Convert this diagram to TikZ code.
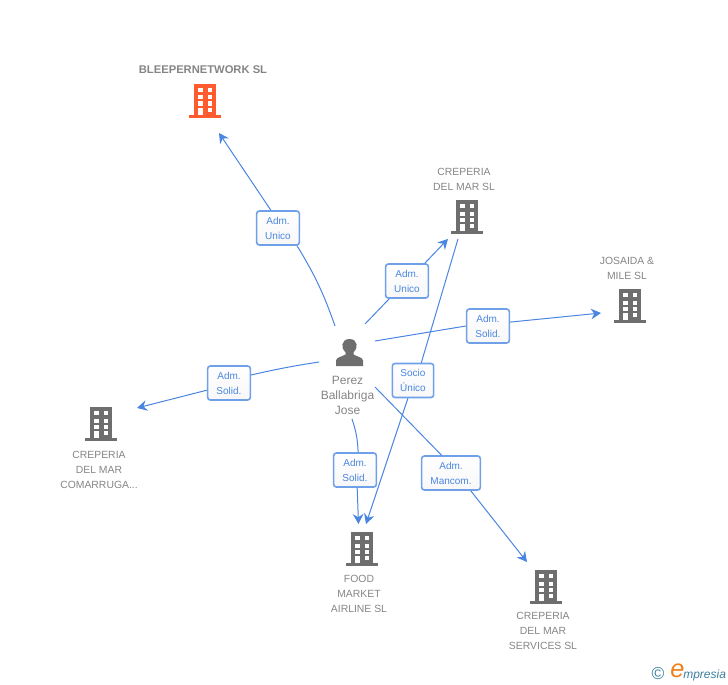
\documentclass[tikz,border=0pt]{standalone}
\usepackage{fontspec}
\setmainfont{Liberation Sans}
\usepackage{tikz}
\usetikzlibrary{arrows.meta}
\definecolor{linkblue}{HTML}{4A86E0}
\definecolor{boxblue}{HTML}{6FA0E8}
\definecolor{iconorange}{HTML}{FF5B2E}
\definecolor{icongray}{HTML}{6E6E6E}
\definecolor{labelgray}{HTML}{858585}
\definecolor{logoteal}{HTML}{3C7F9C}
\definecolor{logoorange}{HTML}{F08018}
\tikzset{
  linkbox/.style={shape=rectangle,draw=boxblue,line width=1.2pt,rounded corners=2pt,top color=white,bottom color=black!3,
    text=linkblue,font=\fontsize{7.5}{11.2}\selectfont,align=center,inner sep=0pt,minimum height=25.5pt},
  link/.style={draw=linkblue,line width=.75pt},
  linkto/.style={link,-{Stealth[length=7.5pt,width=8pt,inset=2.5pt]}},
  caption/.style={text=labelgray,font=\fontsize{7.8}{11.25}\selectfont,align=center,inner sep=0pt},
  bldg/.style={shape=rectangle,minimum width=24pt,minimum height=25.5pt,inner sep=0pt,
    path picture={
      \begin{scope}[shift={(path picture bounding box.center)}]
      \fill[#1] (-11,-17) rectangle (11,14);
      \fill[#1] (-16,14) rectangle (16,17);
      \foreach \yy in {-13,-5.5,0.5} {
        \fill[white] (-7,\yy) rectangle (-2.5,\yy+4);
        \fill[white] (2.5,\yy) rectangle (7,\yy+4);
      }
      \fill[white] (-7,7.3) rectangle (-2.5,14);
      \fill[white] (2.5,7.3) rectangle (7,11.3);
      \end{scope}
    }},
}
\begin{document}
\begin{tikzpicture}[x=.75pt,y=-.75pt]
\useasboundingbox (0,0) rectangle (728,685);
% buildings
\node[bldg=iconorange] (bleeper) at (205,101) {};
\node[bldg=icongray] (delmar) at (467,217) {};
\node[bldg=icongray] (josaida) at (630,306) {};
\node[bldg=icongray] (comarruga) at (101,424) {};
\node[bldg=icongray] (foodmarket) at (362,549) {};
\node[bldg=icongray] (services) at (546,587) {};
% names
\node[caption,font=\fontsize{8.4}{11.25}\selectfont\bfseries] (bleepername) at (203,70) {BLEEPERNETWORK SL};
\node[caption] (delmarname) at (464,179) {CREPERIA\\DEL MAR SL};
\node[caption] (josaidaname) at (627,268) {JOSAIDA \&\\MILE SL};
\node[caption] (comarruganame) at (99,470) {CREPERIA\\DEL MAR\\COMARRUGA...};
\node[caption] (foodmarketname) at (359,594) {FOOD\\MARKET\\AIRLINE SL};
\node[caption] (servicesname) at (543,631) {CREPERIA\\DEL MAR\\SERVICES SL};
% person
\node[shape=rectangle,minimum width=21pt,minimum height=21pt,inner sep=0pt,
  path picture={
    \begin{scope}[shift={(path picture bounding box.center)}]
    \fill[icongray] (-13.5,13.5) -- (-13.5,8) .. controls (-13,4.5) and (-8,4.5) .. (-4,2)
      -- (-4,0) .. controls (-9,-4) and (-8.5,-13.5) .. (0,-13.5) .. controls (8.5,-13.5) and (9,-4) .. (4,0)
      -- (4,2) .. controls (8,4.5) and (13,4.5) .. (13.5,8) -- (13.5,13.5) -- cycle;
    \end{scope}
  }] (perez) at (349.5,352.5) {};
\node[caption,font=\fontsize{9}{11.25}\selectfont] (perezname) at (347.5,395) {Perez\\Ballabriga\\Jose};
% connector ends
\coordinate (a1) at (335,326);
\coordinate (a2) at (219,133);
\coordinate (b1) at (365,324);
\coordinate (b2) at (448,239);
\coordinate (c1) at (375,341);
\coordinate (c2) at (601,313);
\coordinate (d1) at (319,362);
\coordinate (d2) at (137,408);
\coordinate (e1) at (352,419);
\coordinate (e2) at (358.5,524);
\coordinate (f1) at (458,239);
\coordinate (f2) at (366,524);
\coordinate (g1) at (375,387);
\coordinate (g2) at (527,562);
% boxes
\node[linkbox,minimum width=32pt] (bleeperbox) at (278,228) {Adm.\\Unico};
\node[linkbox,minimum width=32pt] (delmarbox) at (407,281) {Adm.\\Unico};
\node[linkbox,minimum width=32pt] (josaidabox) at (488,326) {Adm.\\Solid.};
\node[linkbox,minimum width=32pt] (comarrugabox) at (229,383) {Adm.\\Solid.};
\node[linkbox,minimum width=32pt] (foodbox) at (355,470) {Adm.\\Solid.};
\node[linkbox,minimum width=31pt] (sociobox) at (413,380.5) {Socio\\Único};
\node[linkbox,minimum width=44pt] (servicesbox) at (451,473) {Adm.\\Mancom.};
% connectors
\draw[link] (a1) to[bend right=6] (bleeperbox.-43);
\draw[linkto] (bleeperbox.112) -- (a2);
\draw[link] (b1) -- (delmarbox.225);
\draw[linkto] (delmarbox.45) -- (b2);
\draw[link] (c1) -- (josaidabox.180);
\draw[linkto] (josaidabox.10) -- (c2);
\draw[link] (d1) to[bend right=2] (comarrugabox.20);
\draw[linkto] (comarrugabox.198) -- (d2);
\draw[link] (e1) to[bend left=8] (foodbox.80);
\draw[linkto] (foodbox.-83) -- (e2);
\draw[link] (f1) -- (sociobox.65);
\draw[linkto] (sociobox.-106) -- (f2);
\draw[link] (g1) -- (servicesbox.118);
\draw[linkto] (servicesbox.-42) -- (g2);
% logo
\node[inner sep=0pt,text=logoteal,font=\fontsize{13}{13}\selectfont] (copyright) at (658,674) {©};
\node[inner sep=0pt,text=logoorange,font=\fontsize{19}{19}\selectfont\itshape] (logoe) at (677.5,671) {e};
\node[inner sep=0pt,text=logoteal,font=\fontsize{9}{9}\selectfont\itshape,anchor=west] (logotext) at (683,675) {mpresia};
\end{tikzpicture}
\end{document}
